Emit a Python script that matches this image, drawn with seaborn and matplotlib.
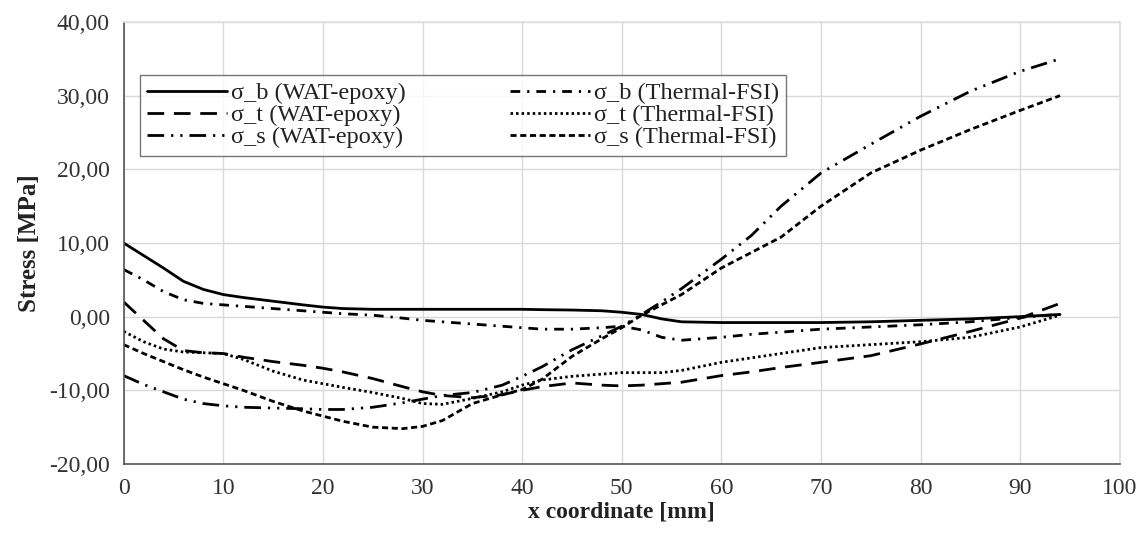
"""
Stress distribution along x coordinate: WAT-epoxy vs Thermal-FSI.
"""

import matplotlib
matplotlib.use("Agg")
import matplotlib.pyplot as plt
import seaborn as sns
from matplotlib.ticker import FuncFormatter, MultipleLocator

# x positions [mm] shared by all series
x_mm = [0, 2, 4, 6, 8, 10, 12, 15, 18, 20, 22, 25, 28, 30, 32, 35, 38, 40,
        42, 45, 48, 50, 52, 54, 56, 60, 63, 66, 70, 75, 80, 85, 90, 94]

sb_wat = [10.0, 8.3, 6.6, 4.8, 3.7, 3.0, 2.6, 2.1, 1.6, 1.3, 1.1, 1.0, 1.0,
          1.0, 1.0, 1.0, 1.0, 1.0, 0.95, 0.9, 0.8, 0.6, 0.3, -0.3, -0.7,
          -0.8, -0.8, -0.8, -0.8, -0.7, -0.5, -0.3, 0.0, 0.3]
st_wat = [2.0, -0.5, -3.0, -4.6, -4.9, -5.0, -5.5, -6.1, -6.6, -7.0, -7.5,
          -8.4, -9.5, -10.2, -10.7, -11.0, -10.6, -10.0, -9.5, -9.0, -9.3,
          -9.4, -9.3, -9.1, -8.9, -8.0, -7.5, -6.9, -6.2, -5.3, -3.7, -2.0,
          -0.2, 1.8]
ss_wat = [-8.0, -9.2, -10.2, -11.2, -11.8, -12.1, -12.3, -12.4, -12.5, -12.6,
          -12.6, -12.3, -11.7, -11.2, -10.7, -10.3, -9.3, -8.1, -6.8, -4.5,
          -2.6, -1.3, 0.3, 2.0, 3.8, 7.8, 11.0, 15.0, 19.5, 23.4, 27.2, 30.6,
          33.3, 35.0]
sb_fsi = [6.4, 5.0, 3.4, 2.3, 1.8, 1.6, 1.4, 1.1, 0.8, 0.6, 0.4, 0.2, -0.2,
          -0.5, -0.7, -1.0, -1.3, -1.5, -1.7, -1.7, -1.5, -1.3, -1.8, -2.8,
          -3.2, -2.8, -2.4, -2.1, -1.7, -1.4, -1.1, -0.7, -0.1, 0.3]
st_fsi = [-2.0, -3.4, -4.4, -4.8, -4.9, -5.0, -5.8, -7.4, -8.6, -9.1, -9.6,
          -10.3, -11.1, -11.8, -11.9, -11.1, -10.2, -9.3, -8.6, -8.1, -7.8,
          -7.6, -7.6, -7.6, -7.3, -6.2, -5.6, -5.0, -4.2, -3.8, -3.4, -2.8,
          -1.4, 0.2]
ss_fsi = [-3.8, -5.0, -6.1, -7.2, -8.2, -9.1, -10.0, -11.5, -12.8, -13.5,
          -14.2, -15.0, -15.2, -14.9, -14.1, -11.8, -10.6, -9.9, -8.5, -5.4,
          -3.0, -1.5, 0.2, 1.6, 3.0, 6.6, 8.7, 10.8, 15.0, 19.5, 22.6, 25.4,
          28.0, 30.0]

series = [
    ("σ_b (WAT-epoxy)", sb_wat, "-"),
    ("σ_t (WAT-epoxy)", st_wat, (0, (6, 3.5))),
    ("σ_s (WAT-epoxy)", ss_wat, (0, (6, 2.5, 0.8, 2.5, 0.8, 2.5))),
    ("σ_b (Thermal-FSI)", sb_fsi, (0, (3.5, 2.5, 0.8, 2.5))),
    ("σ_t (Thermal-FSI)", st_fsi, (0, (0.9, 1.1))),
    ("σ_s (Thermal-FSI)", ss_fsi, (0, (2.2, 1.3))),
]

sns.set_theme(style="whitegrid")
plt.rcParams["font.family"] = ["Liberation Serif", "DejaVu Serif"]

fig = plt.figure(figsize=(11.45, 5.43), dpi=100)
ax = fig.add_axes([0.108, 0.1455, 0.870, 0.814])

for label, vals, ls in series:
    sns.lineplot(x=x_mm, y=vals, ax=ax, color="black", linestyle=ls,
                 linewidth=2.0, label=label)

ax.set_xlim(0, 100)
ax.set_ylim(-20, 40)
ax.xaxis.set_major_locator(MultipleLocator(10))
ax.yaxis.set_major_locator(MultipleLocator(10))
ax.yaxis.set_major_formatter(
    FuncFormatter(lambda v, _: f"{v:.2f}".replace(".", ",")))

ax.grid(True, color="#d9d9d9", linewidth=1)
ax.tick_params(axis="both", labelsize=17, length=5, color="#444444",
               direction="out", labelcolor="#333333", pad=5)
for side in ("top", "right"):
    ax.spines[side].set_color("#e0e0e0")
for side in ("left", "bottom"):
    ax.spines[side].set_color("#555555")
    ax.spines[side].set_linewidth(1.2)

ax.set_xlabel("x coordinate [mm]", fontsize=17, fontweight="bold",
              color="#222222", labelpad=2)
ax.set_ylabel("Stress [MPa]", fontsize=18, fontweight="bold",
              color="#222222", labelpad=6)

leg = ax.legend(loc="upper left", bbox_to_anchor=(0.016, 0.88), ncol=2,
                fontsize=17.5, frameon=True, fancybox=False, handlelength=3.3,
                handletextpad=0.15, columnspacing=4.3, labelspacing=0.0,
                borderpad=0.3, borderaxespad=0)
leg.get_frame().set_edgecolor("#555555")
leg.get_frame().set_linewidth(1.0)
for t in leg.get_texts():
    t.set_color("#222222")

plt.savefig("out.png", dpi=100)
